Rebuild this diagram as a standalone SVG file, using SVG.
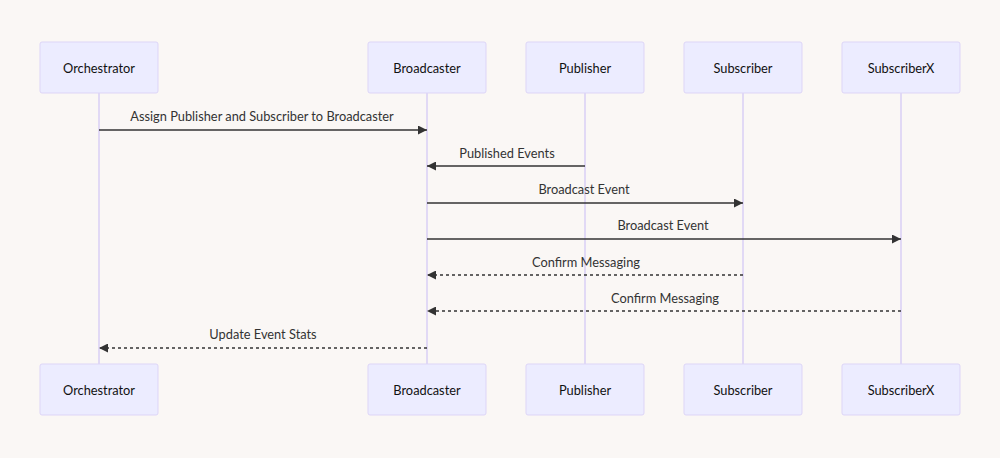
<svg xmlns="http://www.w3.org/2000/svg" width="1000" height="458" viewBox="0 0 1000 458">
<style>
.bg{fill:#faf7f5}
.actor rect{fill:#ececff;stroke:#ddd5f7;stroke-width:1}
.actor text{font-family:"Lato","Liberation Sans",sans-serif;font-size:12.8px;fill:#111;text-anchor:middle;dominant-baseline:central}
.life{stroke:#d9cff5;stroke-width:1.5}
.msg{stroke:#333;stroke-width:1.3;fill:none}
.dash{stroke-dasharray:3,3}
.lbl{font-family:"Lato","Liberation Sans",sans-serif;font-size:12.8px;fill:#333;text-anchor:middle}
</style>
<defs>
<marker id="ah" viewBox="0 0 10 10" refX="10" refY="5" markerWidth="9" markerHeight="9" markerUnits="userSpaceOnUse" orient="auto">
<path d="M0,0 L10,5 L0,10 z" fill="#333"/>
</marker>
</defs>
<rect class="bg" x="0" y="0" width="1000" height="458"/>
<g id="lifelines">
<line class="life" x1="99" y1="93" x2="99" y2="364"/>
<line class="life" x1="427" y1="93" x2="427" y2="364"/>
<line class="life" x1="585" y1="93" x2="585" y2="364"/>
<line class="life" x1="743" y1="93" x2="743" y2="364"/>
<line class="life" x1="901" y1="93" x2="901" y2="364"/>
</g>
<g id="orchestrator-top" class="actor"><rect x="40" y="42" width="118" height="51" rx="2"/><text x="99" y="68">Orchestrator</text></g>
<g id="broadcaster-top" class="actor"><rect x="368" y="42" width="118" height="51" rx="2"/><text x="427" y="68">Broadcaster</text></g>
<g id="publisher-top" class="actor"><rect x="526" y="42" width="118" height="51" rx="2"/><text x="585" y="68">Publisher</text></g>
<g id="subscriber-top" class="actor"><rect x="684" y="42" width="118" height="51" rx="2"/><text x="743" y="68">Subscriber</text></g>
<g id="subscriberx-top" class="actor"><rect x="842" y="42" width="118" height="51" rx="2"/><text x="901" y="68">SubscriberX</text></g>
<g id="orchestrator-bottom" class="actor"><rect x="40" y="364" width="118" height="51" rx="2"/><text x="99" y="390">Orchestrator</text></g>
<g id="broadcaster-bottom" class="actor"><rect x="368" y="364" width="118" height="51" rx="2"/><text x="427" y="390">Broadcaster</text></g>
<g id="publisher-bottom" class="actor"><rect x="526" y="364" width="118" height="51" rx="2"/><text x="585" y="390">Publisher</text></g>
<g id="subscriber-bottom" class="actor"><rect x="684" y="364" width="118" height="51" rx="2"/><text x="743" y="390">Subscriber</text></g>
<g id="subscriberx-bottom" class="actor"><rect x="842" y="364" width="118" height="51" rx="2"/><text x="901" y="390">SubscriberX</text></g>
<g id="connectors">
<line class="msg" x1="99" y1="130" x2="427" y2="130" marker-end="url(#ah)"/>
<text class="lbl" x="262" y="121">Assign Publisher and Subscriber to Broadcaster</text>
<line class="msg" x1="585" y1="166" x2="427" y2="166" marker-end="url(#ah)"/>
<text class="lbl" x="507" y="158">Published Events</text>
<line class="msg" x1="427" y1="203" x2="743" y2="203" marker-end="url(#ah)"/>
<text class="lbl" x="584" y="194">Broadcast Event</text>
<line class="msg" x1="427" y1="239" x2="901" y2="239" marker-end="url(#ah)"/>
<text class="lbl" x="663" y="230">Broadcast Event</text>
<line class="msg dash" x1="743" y1="275" x2="427" y2="275" marker-end="url(#ah)"/>
<text class="lbl" x="586" y="267">Confirm Messaging</text>
<line class="msg dash" x1="901" y1="311" x2="427" y2="311" marker-end="url(#ah)"/>
<text class="lbl" x="665" y="303">Confirm Messaging</text>
<line class="msg dash" x1="427" y1="348" x2="99" y2="348" marker-end="url(#ah)"/>
<text class="lbl" x="263" y="339">Update Event Stats</text>
</g>
</svg>
